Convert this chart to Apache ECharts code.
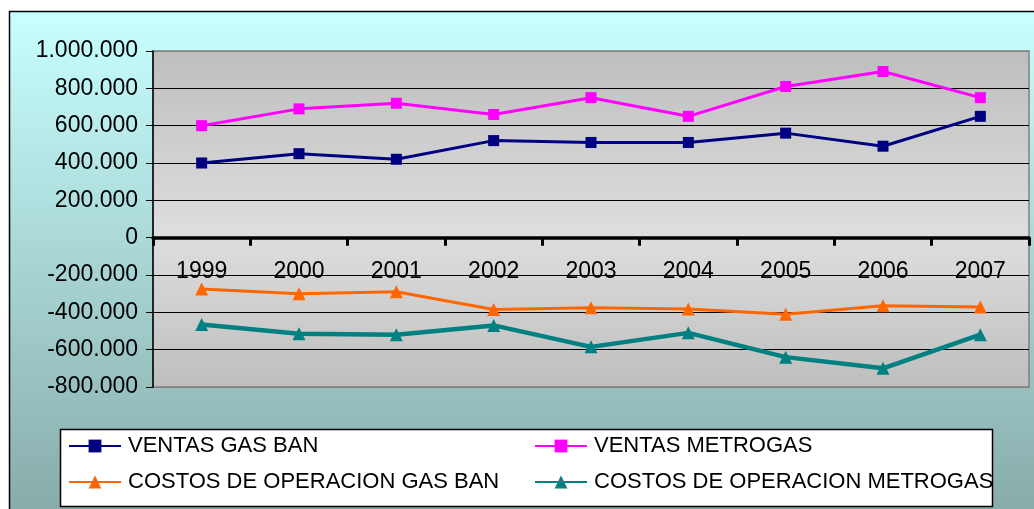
<!DOCTYPE html>
<html>
<head>
<meta charset="utf-8">
<script src="https://cdn.jsdelivr.net/npm/echarts@6/dist/echarts.min.js"></script>
<style>
html,body{margin:0;padding:0;background:#fff;}
#c{width:1034px;height:509px;}
</style>
</head>
<body>
<div id="c"></div>
<script>
var categories = ['1999','2000','2001','2002','2003','2004','2005','2006','2007'];
var ventasGasBan = [400000, 450000, 420000, 520000, 510000, 510000, 560000, 490000, 650000];
var ventasMetrogas = [600000, 690000, 720000, 660000, 750000, 650000, 810000, 890000, 750000];
var costosGasBan = [-275000, -300000, -290000, -385000, -375000, -382000, -410000, -365000, -372000];
var costosMetrogas = [-465000, -515000, -520000, -470000, -585000, -510000, -640000, -700000, -520000];
var seriesNames = ['VENTAS GAS BAN','VENTAS METROGAS','COSTOS DE OPERACION GAS BAN','COSTOS DE OPERACION METROGAS'];

function fmt(v){
  var neg = v < 0; var s = String(Math.abs(v));
  s = s.replace(/\B(?=(\d{3})+(?!\d))/g, '.');
  return (neg ? '-' : '') + s;
}
var FONT = '"Liberation Sans", Arial, sans-serif';
var chart = echarts.init(document.getElementById('c'));
function legendAt(name, left, top){
  return {
    data:[name], left:left, top:top, orient:'horizontal',
    itemWidth:52, itemHeight:16, padding:0, selectedMode:false,
    textStyle:{fontFamily:FONT, fontSize:22, color:'#000', padding:[0,0,0,2]}
  };
}
var splitColors = ['#808080','#000','#000','#000','#000','#000','#000','#000','#000','#808080'];
chart.setOption({
  animation:false,
  backgroundColor:'#fff',
  graphic:[
    {type:'rect', z:-10, shape:{x:9.5, y:11.5, width:1040, height:510},
     style:{fill:new echarts.graphic.LinearGradient(0,0,0,1,[{offset:0,color:'#C8FFFF'},{offset:1,color:'#86AAA8'}]), stroke:'#000', lineWidth:1.5}},
    {type:'rect', z:-5, shape:{x:60.5, y:429.5, width:932, height:77},
     style:{fill:'#fff', stroke:'#000', lineWidth:1.5}}
  ],
  grid:{left:153, right:5, top:51, bottom:122, show:true,
    backgroundColor:new echarts.graphic.LinearGradient(0,0,0,1,[{offset:0,color:'#BEBEBE'},{offset:0.55,color:'#DEDEDE'},{offset:1,color:'#BEBEBE'}]),
    borderColor:'#808080', borderWidth:1.5},
  legend:[
    legendAt(seriesNames[0], 68, 435),
    legendAt(seriesNames[1], 534, 435),
    legendAt(seriesNames[2], 68, 471),
    legendAt(seriesNames[3], 534, 471)
  ],
  xAxis:{type:'category', data:categories, boundaryGap:true,
    axisLine:{onZero:true, lineStyle:{color:'#000', width:3.5}},
    axisTick:{show:true, length:8, lineStyle:{color:'#000', width:3}},
    axisLabel:{fontFamily:FONT, fontSize:23, color:'#000', margin:-127}
  },
  yAxis:{type:'value', min:-800000, max:1000000, interval:200000,
    axisLine:{show:true, lineStyle:{color:'#000', width:1.5}},
    axisTick:{show:true, length:7, lineStyle:{color:'#000', width:1}},
    axisLabel:{fontFamily:FONT, fontSize:23, color:'#000', margin:15, formatter:fmt},
    splitLine:{show:true, lineStyle:{color:splitColors, width:1.2}}
  },
  series:[
    {name:seriesNames[0], type:'line', data:ventasGasBan, symbol:'rect', symbolSize:11,
     lineStyle:{color:'#000080', width:3}, itemStyle:{color:'#000080'}},
    {name:seriesNames[1], type:'line', data:ventasMetrogas, symbol:'rect', symbolSize:11,
     lineStyle:{color:'#FF00FF', width:3}, itemStyle:{color:'#FF00FF'}},
    {name:seriesNames[2], type:'line', data:costosGasBan, symbol:'triangle', symbolSize:13,
     lineStyle:{color:'#FF6600', width:3}, itemStyle:{color:'#FF6600'}},
    {name:seriesNames[3], type:'line', data:costosMetrogas, symbol:'triangle', symbolSize:13,
     lineStyle:{color:'#008080', width:4.5}, itemStyle:{color:'#008080'}}
  ]
});
</script>
</body>
</html>
